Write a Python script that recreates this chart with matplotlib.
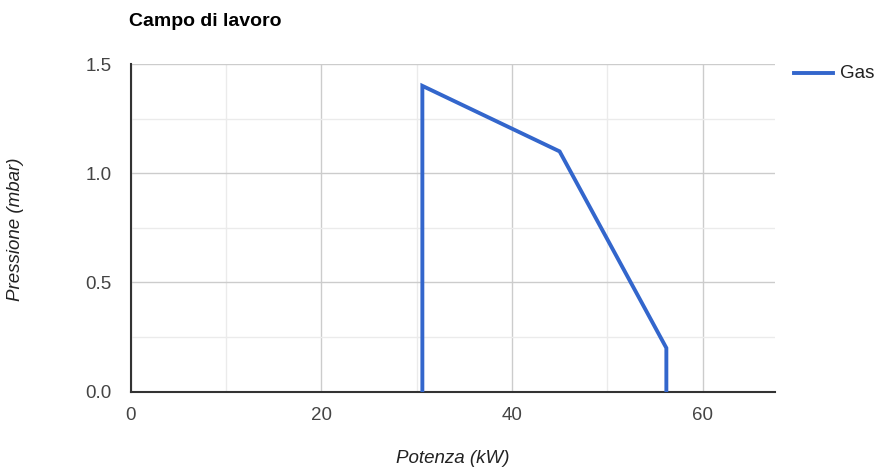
import matplotlib
matplotlib.use("Agg")
import matplotlib.pyplot as plt

plt.rcParams["font.family"] = ["Liberation Sans", "DejaVu Sans"]

# working field boundary (power in kW vs pressure in mbar)
potenza = [30.6, 30.6, 45.0, 56.2, 56.2]
pressione = [0.0, 1.4, 1.1, 0.2, 0.0]
series_name = "Gas"
x_ticks = [0, 20, 40, 60]
y_ticks = [0.0, 0.5, 1.0, 1.5]

FS = 13.5
LINE_W = 2.8

fig = plt.figure(figsize=(8.79, 4.69), dpi=100)
ax = fig.add_axes([0.1487, 0.1648, 0.7330, 0.6987])

ax.plot(potenza, pressione, color="#3366cc", linewidth=LINE_W, solid_joinstyle="miter", zorder=3)

ax.set_xlim(0, 67.6)
ax.set_ylim(0, 1.5)
ax.set_xticks(x_ticks)
ax.set_xticklabels([str(t) for t in x_ticks])
ax.set_yticks(y_ticks)
ax.set_yticklabels([f"{t:.1f}" for t in y_ticks])
ax.set_xticks([10, 30, 50], minor=True)
ax.set_yticks([0.25, 0.75, 1.25], minor=True)

ax.grid(which="major", color="#cccccc", linewidth=1.0, zorder=0)
ax.grid(which="minor", color="#ebebeb", linewidth=1.0, zorder=0)
ax.set_axisbelow(True)

for side in ["top", "right"]:
    ax.spines[side].set_visible(False)
for side in ["left", "bottom"]:
    ax.spines[side].set_color("#333333")
    ax.spines[side].set_linewidth(1.5)

ax.tick_params(which="both", length=0, labelsize=FS, labelcolor="#444444")
ax.tick_params(axis="x", pad=11)
ax.tick_params(axis="y", pad=14)

fig.text(453 / 879, 1 - 458 / 469, "Potenza (kW)", fontsize=FS, style="italic",
         color="#222222", ha="center", va="center")
fig.text(16 / 879, 1 - 229 / 469, "Pressione (mbar)", fontsize=FS, style="italic",
         color="#222222", ha="center", va="center", rotation=90)

fig.text(129 / 879, 1 - 21 / 469, "Campo di lavoro", fontsize=14, fontweight="bold",
         color="#000000", ha="left", va="center")

# legend at top right
fig.lines.append(plt.Line2D([794 / 879, 833 / 879], [1 - 73 / 469, 1 - 73 / 469],
                            color="#3366cc", linewidth=LINE_W, transform=fig.transFigure))
fig.text(840 / 879, 1 - 73 / 469, series_name, fontsize=FS, color="#222222",
         ha="left", va="center")

fig.savefig("out.png", dpi=100)
